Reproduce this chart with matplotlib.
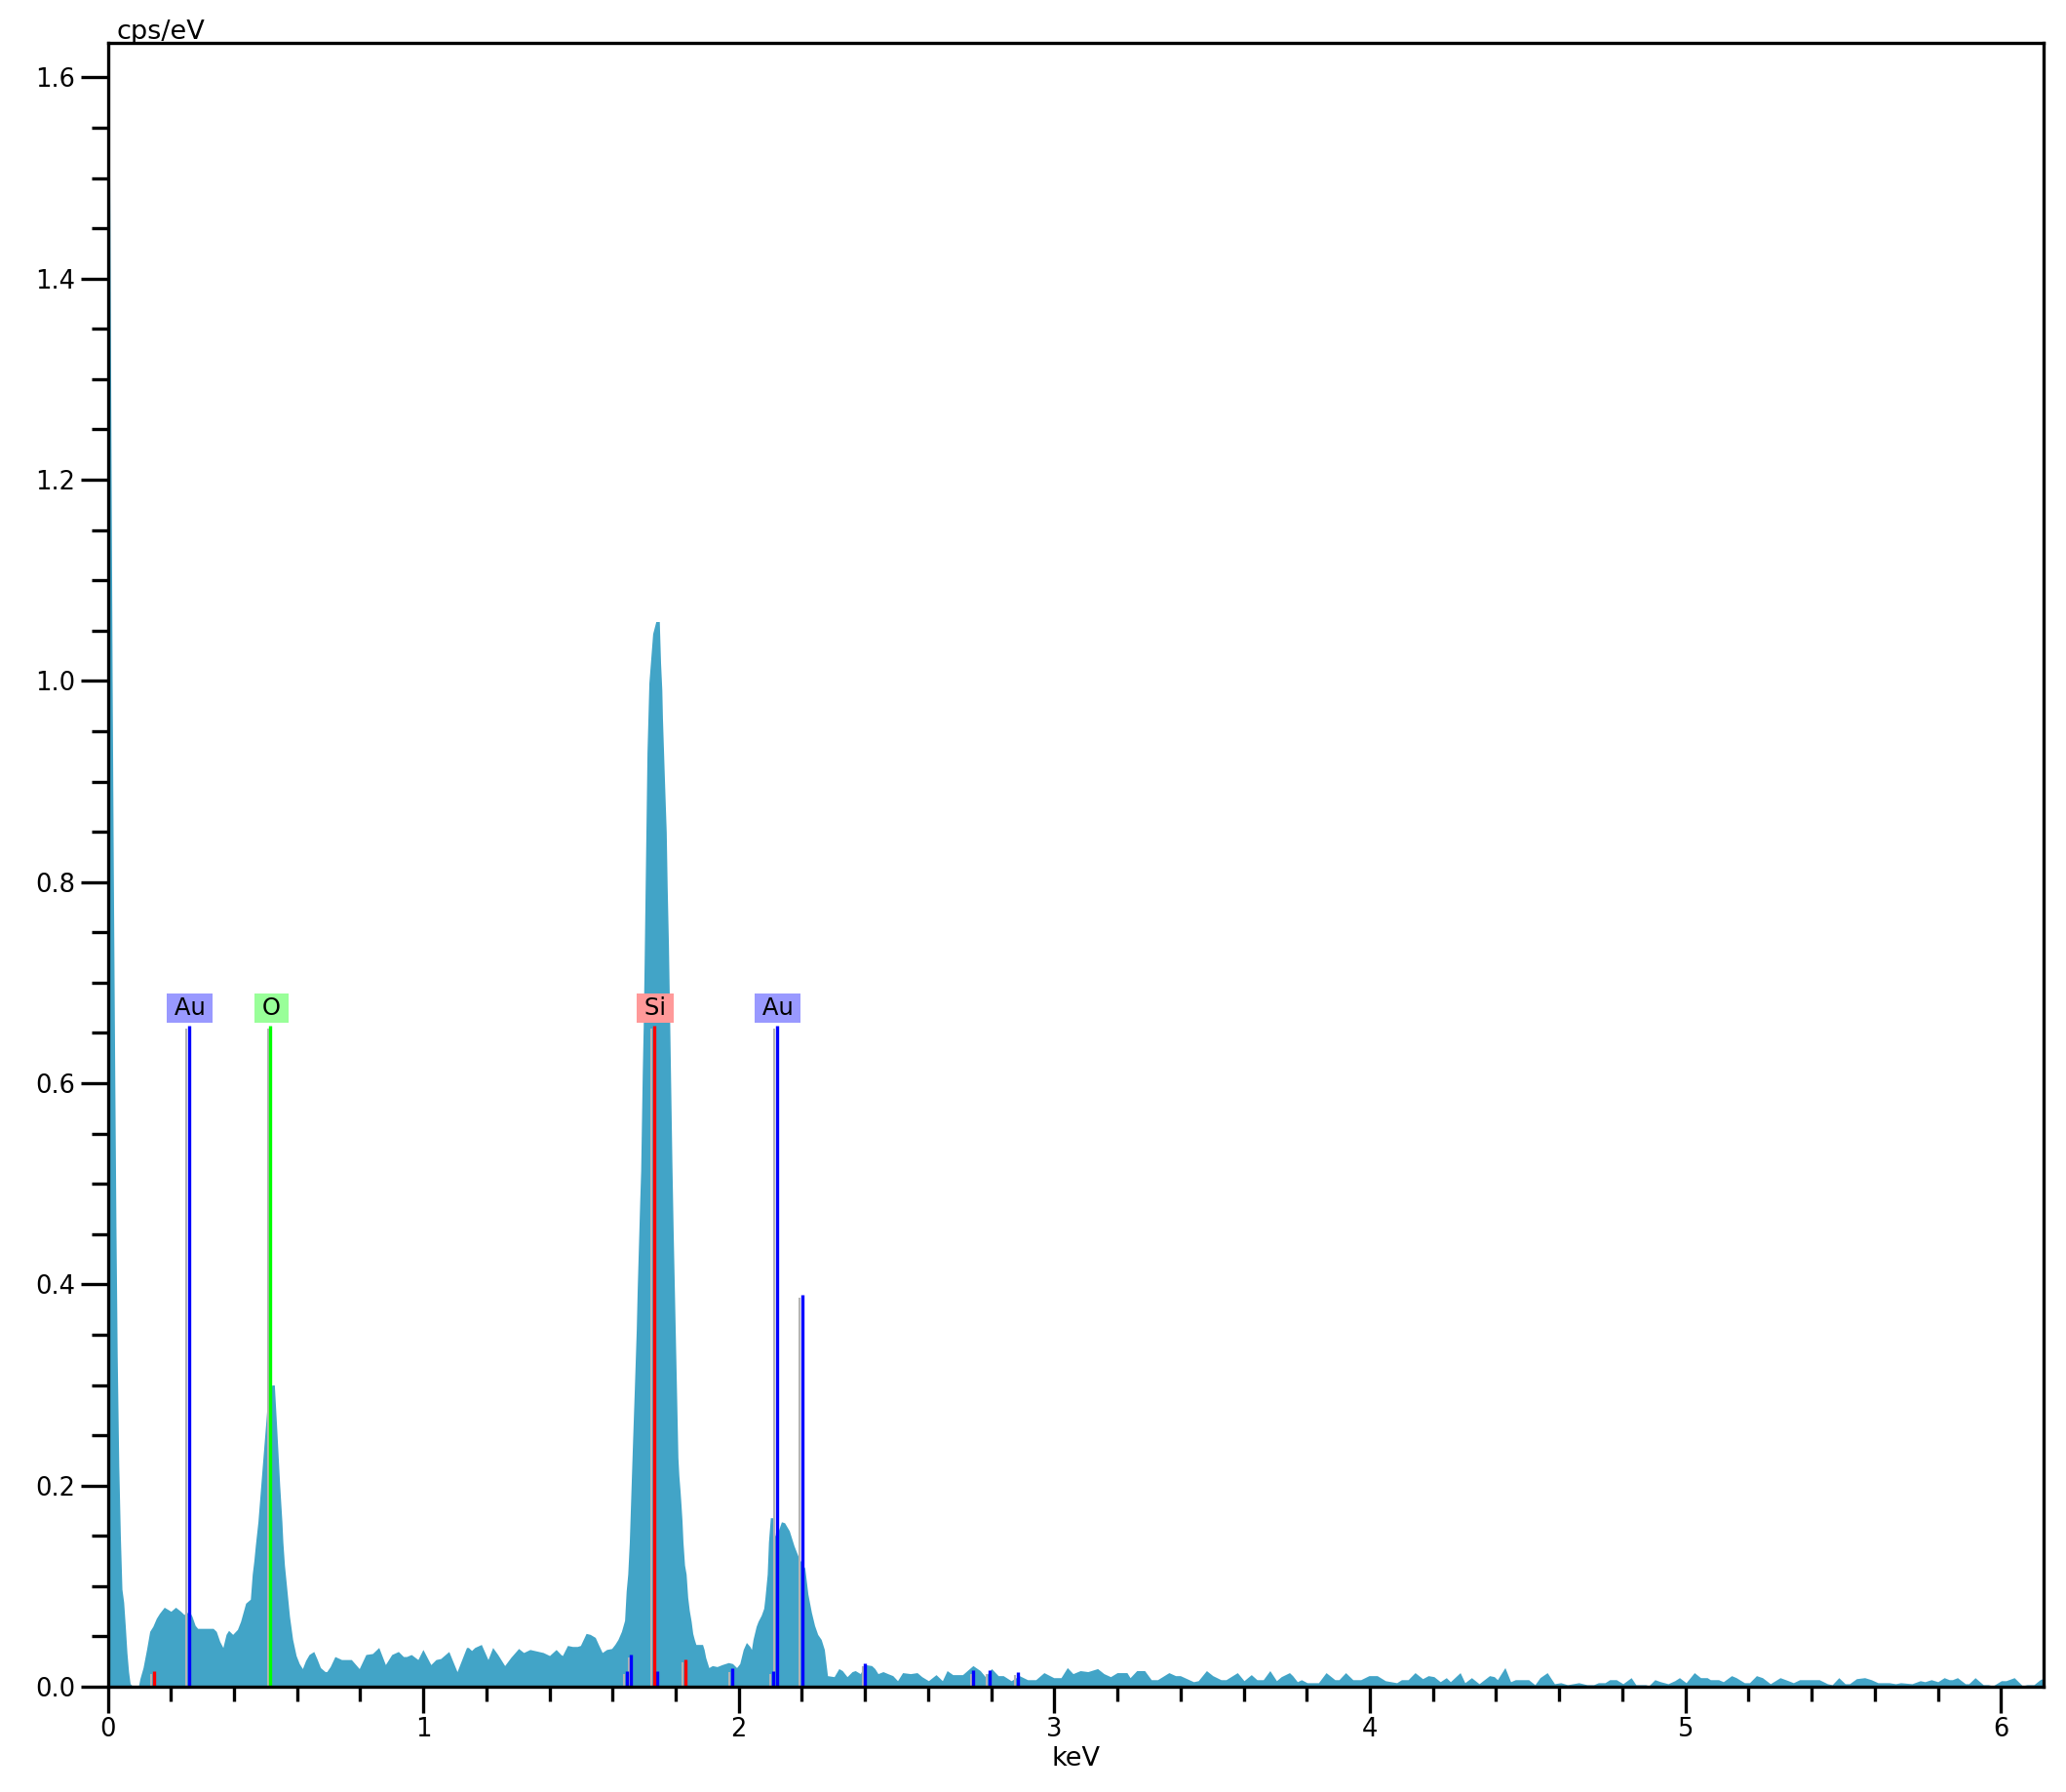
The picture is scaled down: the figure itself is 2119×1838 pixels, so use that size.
import matplotlib
matplotlib.use('Agg')
import matplotlib.pyplot as plt
import matplotlib.transforms as mtransforms
from matplotlib.ticker import MultipleLocator, FormatStrFormatter
import numpy as np

plt.rcParams['font.family'] = ['DejaVu Sans']

# ---------------- spectrum vertices (keV, cps/eV) -------------
low_e = [0.000, 0.004, 0.007, 0.010, 0.014, 0.018, 0.022, 0.026, 0.030, 0.035, 0.040, 0.045,
         0.0505, 0.0557, 0.0608, 0.066, 0.071, 0.081, 0.097, 0.102, 0.112, 0.123, 0.133, 0.143,
         0.154, 0.164, 0.179, 0.195, 0.200, 0.215, 0.231, 0.241, 0.248, 0.257, 0.267, 0.277,
         0.285, 0.334, 0.344, 0.355, 0.365, 0.375, 0.383, 0.396, 0.411, 0.421, 0.437, 0.452,
         0.458, 0.463, 0.468]
low_v = [1.70, 1.61, 1.46, 1.25, 1.00, 0.80, 0.62, 0.46, 0.33, 0.22, 0.15, 0.097,
         0.084, 0.060, 0.034, 0.015, 0.003, 0.0, 0.0, 0.008, 0.019, 0.037, 0.055, 0.060,
         0.068, 0.073, 0.079, 0.076, 0.075, 0.079, 0.075, 0.072, 0.072, 0.076, 0.070, 0.061,
         0.058, 0.058, 0.055, 0.045, 0.039, 0.052, 0.056, 0.052, 0.057, 0.065, 0.083, 0.087,
         0.112, 0.125, 0.141]

o_e = [0.476, 0.490, 0.504, 0.515, 0.520, 0.528, 0.535, 0.545, 0.552, 0.555, 0.560, 0.566,
       0.576, 0.586, 0.597, 0.607, 0.617]
o_v = [0.164, 0.22, 0.275, 0.29, 0.30, 0.30, 0.26, 0.20, 0.164, 0.144, 0.121, 0.102,
       0.070, 0.047, 0.031, 0.023, 0.018]

mid_e = [0.627, 0.638, 0.653, 0.664, 0.674, 0.689, 0.694, 0.705, 0.720, 0.741, 0.772, 0.797,
         0.818, 0.839, 0.859, 0.880, 0.900, 0.921, 0.937, 0.947, 0.962, 0.983, 0.999, 1.024,
         1.040, 1.055, 1.081, 1.107, 1.137, 1.143, 1.153, 1.163, 1.184, 1.205, 1.220, 1.236,
         1.258, 1.277, 1.302, 1.318, 1.338, 1.380, 1.400, 1.421, 1.436, 1.441, 1.457, 1.473,
         1.488, 1.498, 1.516, 1.529, 1.545, 1.555, 1.567, 1.581, 1.597, 1.607, 1.617, 1.628,
         1.638, 1.643, 1.648, 1.653]
mid_v = [0.026, 0.032, 0.035, 0.027, 0.019, 0.015, 0.015, 0.020, 0.030, 0.027, 0.027, 0.018,
         0.032, 0.033, 0.039, 0.022, 0.032, 0.035, 0.030, 0.030, 0.032, 0.027, 0.037, 0.022,
         0.027, 0.028, 0.035, 0.015, 0.039, 0.039, 0.036, 0.039, 0.042, 0.027, 0.039, 0.032,
         0.021, 0.029, 0.038, 0.034, 0.037, 0.034, 0.031, 0.037, 0.032, 0.031, 0.041, 0.040,
         0.040, 0.041, 0.053, 0.052, 0.049, 0.042, 0.034, 0.037, 0.038, 0.042, 0.047, 0.055,
         0.066, 0.095, 0.112, 0.144]

si_e = [1.657, 1.660, 1.663, 1.666, 1.669, 1.672, 1.675, 1.678, 1.682, 1.686, 1.689, 1.694,
        1.697, 1.700, 1.703, 1.706, 1.709, 1.715, 1.727, 1.737, 1.748, 1.752, 1.756, 1.758,
        1.761, 1.764, 1.767, 1.770, 1.773, 1.777, 1.780, 1.784, 1.788, 1.792, 1.795, 1.798,
        1.801, 1.804, 1.807, 1.810, 1.814, 1.817, 1.820, 1.823]
si_v = [0.183, 0.212, 0.241, 0.269, 0.297, 0.326, 0.355, 0.395, 0.439, 0.483, 0.513, 0.610,
        0.656, 0.720, 0.790, 0.859, 0.929, 0.998, 1.047, 1.059, 1.059, 1.018, 0.991, 0.963,
        0.934, 0.905, 0.877, 0.850, 0.795, 0.738, 0.680, 0.600, 0.520, 0.452, 0.407, 0.362,
        0.318, 0.273, 0.228, 0.210, 0.194, 0.180, 0.165, 0.144]

gap_e = [1.828, 1.833, 1.838, 1.843, 1.849, 1.854, 1.859, 1.864, 1.885, 1.890, 1.895, 1.905,
         1.916, 1.931, 1.947, 1.967, 1.980, 1.993, 2.003, 2.014, 2.024, 2.035, 2.040, 2.045,
         2.055, 2.061, 2.071, 2.079, 2.083, 2.090, 2.094]
gap_v = [0.121, 0.112, 0.089, 0.076, 0.065, 0.053, 0.047, 0.042, 0.042, 0.037, 0.029, 0.019,
         0.021, 0.020, 0.022, 0.024, 0.023, 0.019, 0.023, 0.037, 0.044, 0.040, 0.037, 0.047,
         0.060, 0.065, 0.071, 0.078, 0.089, 0.112, 0.144]

au_e = [2.100, 2.108, 2.115, 2.125, 2.135, 2.145, 2.160, 2.175, 2.190, 2.209, 2.219, 2.230,
        2.240, 2.250, 2.261, 2.271, 2.281, 2.302, 2.317, 2.328, 2.343, 2.359, 2.369, 2.385,
        2.400, 2.421, 2.431, 2.441, 2.457, 2.472, 2.488, 2.503, 2.519]
au_v = [0.168, 0.168, 0.150, 0.155, 0.164, 0.163, 0.155, 0.140, 0.128, 0.118, 0.092, 0.074,
        0.061, 0.052, 0.047, 0.037, 0.011, 0.010, 0.018, 0.016, 0.010, 0.015, 0.016, 0.013,
        0.022, 0.021, 0.018, 0.013, 0.015, 0.013, 0.011, 0.006, 0.014]

tail1_e = [2.544, 2.565, 2.580, 2.601, 2.625, 2.645, 2.660, 2.678, 2.709, 2.742, 2.765, 2.781,
           2.801, 2.822, 2.838, 2.863, 2.889, 2.915, 2.941, 2.967, 2.998, 3.021, 3.041, 3.059,
           3.082, 3.106, 3.137, 3.157, 3.178, 3.199, 3.230, 3.240, 3.261, 3.286, 3.307, 3.327,
           3.363, 3.384, 3.399, 3.420, 3.441, 3.456, 3.482, 3.502, 3.528, 3.544, 3.580, 3.601,
           3.624, 3.642, 3.662, 3.683, 3.704]
tail1_v = [0.013, 0.014, 0.010, 0.006, 0.012, 0.006, 0.016, 0.012, 0.012, 0.021, 0.016, 0.010,
           0.018, 0.011, 0.011, 0.006, 0.011, 0.007, 0.007, 0.014, 0.009, 0.009, 0.019, 0.013,
           0.016, 0.015, 0.018, 0.013, 0.010, 0.014, 0.014, 0.009, 0.016, 0.016, 0.007, 0.007,
           0.014, 0.011, 0.011, 0.008, 0.005, 0.006, 0.016, 0.011, 0.007, 0.007, 0.014, 0.006,
           0.012, 0.007, 0.007, 0.016, 0.006]

tail2_e = [3.719, 3.745, 3.755, 3.770, 3.783, 3.801, 3.837, 3.861, 3.889, 3.902, 3.923, 3.946,
           3.971, 3.997, 4.023, 4.049, 4.085, 4.100, 4.121, 4.143, 4.167, 4.185, 4.203, 4.223,
           4.242, 4.255, 4.286, 4.301, 4.322, 4.346, 4.379, 4.394, 4.404, 4.428, 4.446, 4.461,
           4.503, 4.523, 4.539, 4.562, 4.585, 4.605, 4.626, 4.662, 4.688, 4.709, 4.724, 4.745,
           4.760, 4.781, 4.802, 4.828, 4.843, 4.874, 4.884, 4.903, 4.921]
tail2_v = [0.010, 0.014, 0.011, 0.005, 0.007, 0.004, 0.004, 0.014, 0.007, 0.007, 0.014, 0.007,
           0.007, 0.011, 0.011, 0.006, 0.004, 0.007, 0.007, 0.014, 0.008, 0.011, 0.010, 0.005,
           0.009, 0.005, 0.014, 0.004, 0.009, 0.003, 0.011, 0.010, 0.007, 0.019, 0.005, 0.007,
           0.007, 0.002, 0.009, 0.014, 0.003, 0.004, 0.002, 0.004, 0.002, 0.002, 0.004, 0.004,
           0.007, 0.007, 0.003, 0.009, 0.002, 0.002, 0.001, 0.007, 0.005]

tail3_e = [4.945, 4.966, 4.981, 5.002, 5.028, 5.048, 5.069, 5.079, 5.105, 5.120, 5.146, 5.161,
           5.187, 5.203, 5.225, 5.244, 5.269, 5.300, 5.326, 5.342, 5.362, 5.424, 5.450, 5.465,
           5.486, 5.506, 5.520, 5.542, 5.568, 5.589, 5.610, 5.646, 5.666, 5.682, 5.718, 5.744,
           5.759, 5.779, 5.800, 5.820, 5.836, 5.846, 5.862, 5.887, 5.898, 5.918, 5.944, 5.959,
           5.975, 6.001, 6.016, 6.042, 6.068, 6.083, 6.104, 6.124, 6.140]
tail3_v = [0.003, 0.006, 0.009, 0.004, 0.014, 0.009, 0.009, 0.007, 0.007, 0.005, 0.011, 0.009,
           0.004, 0.004, 0.011, 0.009, 0.003, 0.009, 0.006, 0.004, 0.007, 0.007, 0.003, 0.002,
           0.009, 0.003, 0.003, 0.008, 0.009, 0.007, 0.004, 0.004, 0.003, 0.004, 0.003, 0.006,
           0.005, 0.007, 0.005, 0.009, 0.007, 0.007, 0.009, 0.003, 0.003, 0.009, 0.002, 0.002,
           0.001, 0.006, 0.006, 0.009, 0.001, 0.002, 0.002, 0.007, 0.009]

# ---------------- element marker lines --------------------------------------------
label_names = ['Au', 'O', 'Si', 'Au']
label_energies = [0.2566, 0.516, 1.732, 2.120]
label_heights = [0.657, 0.657, 0.657, 0.657]
label_colors = ['#0000ff', '#00ff00', '#ff0000', '#0000ff']
label_box_colors = ['#9999ff', '#99ff99', '#ff9999', '#9999ff']

extra_energies = [2.202, 0.146, 1.831, 1.645, 1.659, 1.741, 1.979, 2.109, 2.400, 2.743, 2.795, 2.884]
extra_heights = [0.390, 0.0155, 0.0275, 0.0155, 0.032, 0.0155, 0.018, 0.0155, 0.023, 0.016, 0.016, 0.015]
extra_colors = ['#0000ff', '#ff0000', '#ff0000', '#0000ff', '#0000ff', '#0000ff', '#0000ff',
                '#0000ff', '#0000ff', '#0000ff', '#0000ff', '#0000ff']

x_major = [0, 1, 2, 3, 4, 5, 6]
y_major = [0.0, 0.2, 0.4, 0.6, 0.8, 1.0, 1.2, 1.4, 1.6]

# ---------------- figure ------------------------------------------------------------
W, H = 2119, 1838
fig = plt.figure(figsize=(W / 100, H / 100), dpi=100)
ax = fig.add_axes([110.5 / W, 1 - 1730 / H, (2096 - 110.5) / W, (1730 - 44.3) / H])

energy = np.array(low_e + o_e + mid_e + si_e + gap_e + au_e + tail1_e + tail2_e + tail3_e)
cps = np.array(low_v + o_v + mid_v + si_v + gap_v + au_v + tail1_v + tail2_v + tail3_v)

spec_color = '#42a4c7'
ax.fill_between(energy, 0, cps, color=spec_color, linewidth=0, zorder=1)

gray_tr = mtransforms.offset_copy(ax.transData, fig=fig, x=-2.7, y=0, units='dots')

def marker(e, h, c):
    ax.plot([e, e], [0, h - 0.003], color='#b4b4b4', lw=1.5, transform=gray_tr,
            solid_capstyle='butt', zorder=3)
    ax.plot([e, e], [0, h], color=c, lw=2.4, solid_capstyle='butt', zorder=4)

for e, h, c in zip(extra_energies, extra_heights, extra_colors):
    marker(e, h, c)
for e, h, c in zip(label_energies, label_heights, label_colors):
    marker(e, h, c)
for name, e, bc in zip(label_names, label_energies, label_box_colors):
    ax.text(e + 0.003, 0.675, '\u2009' + name + '\u2009', ha='center', va='center',
            fontsize=17.5, color='black', zorder=5,
            bbox=dict(boxstyle='square,pad=0.12', fc=bc, ec='none'))

ax.set_xlim(0, 6.135)
ax.set_ylim(0, 1.634)

ax.set_xticks(x_major)
ax.set_xticklabels([str(v) for v in x_major])
ax.xaxis.set_minor_locator(MultipleLocator(0.2))
ax.set_yticks(y_major)
ax.yaxis.set_major_formatter(FormatStrFormatter('%.1f'))
ax.yaxis.set_minor_locator(MultipleLocator(0.05))

ax.tick_params(axis='both', which='major', direction='out', width=2.4, labelsize=18.5,
               colors='black')
ax.tick_params(axis='x', which='major', length=19.5, pad=3)
ax.tick_params(axis='x', which='minor', length=11, width=2.4, direction='out')
ax.tick_params(axis='y', which='major', length=20, pad=4)
ax.tick_params(axis='y', which='minor', length=12, width=2.4, direction='out')
ax.tick_params(top=False, right=False, which='both')

for s in ax.spines.values():
    s.set_linewidth(2.4)
    s.set_color('black')
    s.set_zorder(6)

ax.set_xlabel('keV', fontsize=19.5, labelpad=3)
ax.text(0.0045, 1.0 + 4 / 1685.7, 'cps/eV', transform=ax.transAxes, ha='left',
        va='baseline', fontsize=19.5)

fig.savefig('out.png', dpi=100)
